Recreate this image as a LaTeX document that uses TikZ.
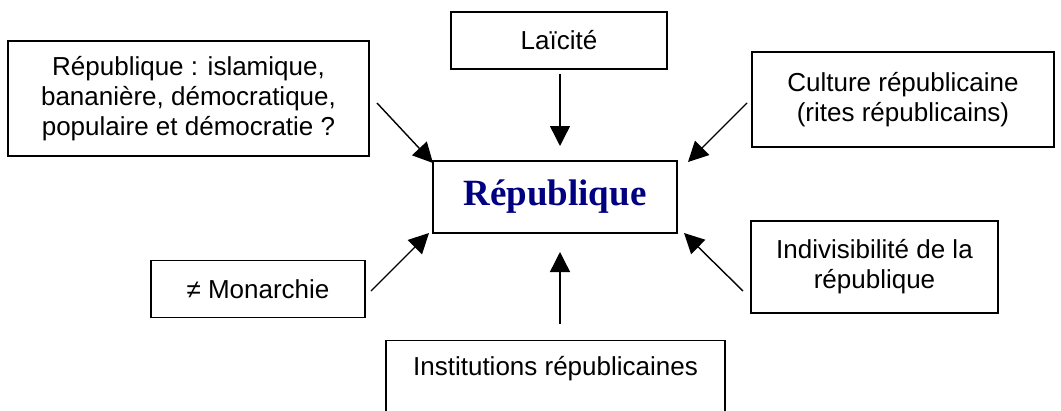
\documentclass[tikz,border=0pt]{standalone}
\usepackage{fontspec}
\setmainfont{Liberation Sans}
\newfontfamily\serifbold{Liberation Serif}
\usetikzlibrary{arrows.meta}
\definecolor{repblue}{RGB}{0,0,128}
\tikzset{
  box/.style={draw=black, line width=1.4pt, rectangle, align=center, inner sep=0pt,
    font=\fontsize{26}{30}\selectfont},
  arr/.style={line width=1.4pt, -{Triangle[length=20pt,width=20pt]}},
}
\begin{document}
\begin{tikzpicture}[x=1pt,y=-1pt]
\clip (0,0) rectangle (1061,410);
\useasboundingbox (0,0) rectangle (1061,410);
\node[box, minimum width=361pt, minimum height=115pt] (typ) at (188.5,98.5)
  {République : islamique,\\bananière, démocratique,\\populaire et démocratie ?};
\node[box, minimum width=216pt, minimum height=57pt] (lai) at (559,40.5) {Laïcité};
\node[box, minimum width=302pt, minimum height=95pt] (cul) at (903,99.5)
  {Culture républicaine\\(rites républicains)};
\node[box, minimum width=244pt, minimum height=72pt,
  font=\serifbold\bfseries\fontsize{37}{40}\selectfont, text=repblue] (rep) at (555,197) {République};
\node[box, minimum width=214pt, minimum height=57pt] (mon) at (258,289) {≠ Monarchie};
\node[box, minimum width=247pt, minimum height=92pt] (ind) at (874.5,267)
  {Indivisibilité de la\\république};
\node[box, minimum width=339pt, text height=35pt, text depth=50pt, anchor=north] (ins) at (555.5,340)
  {Institutions républicaines};
\coordinate (a1s) at (377,103); \coordinate (a1e) at (433,163);
\coordinate (a2s) at (560,74);  \coordinate (a2e) at (560,146);
\coordinate (a3s) at (747,103); \coordinate (a3e) at (688,162);
\coordinate (a4s) at (371,291); \coordinate (a4e) at (429,233);
\coordinate (a5s) at (560,324); \coordinate (a5e) at (560,252);
\coordinate (a6s) at (743,291); \coordinate (a6e) at (684,233);
\draw[arr] (a1s) -- (a1e);
\draw[arr] (a2s) -- (a2e);
\draw[arr] (a3s) -- (a3e);
\draw[arr] (a4s) -- (a4e);
\draw[arr] (a5s) -- (a5e);
\draw[arr] (a6s) -- (a6e);
\end{tikzpicture}
\end{document}
